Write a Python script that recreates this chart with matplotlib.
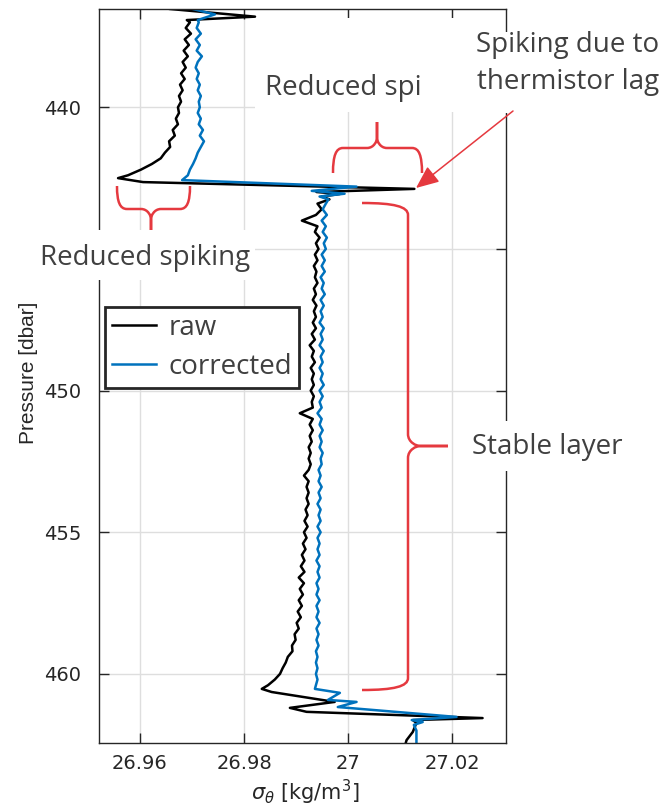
import numpy as np
import matplotlib
matplotlib.use('Agg')
import matplotlib.pyplot as plt
import matplotlib.transforms as mtransforms
from matplotlib.patches import Rectangle, PathPatch, FancyArrowPatch
from matplotlib.path import Path

# ---- profile data (pressure in dbar, sigma_theta in kg/m^3) ----
raw_head_p = [436.53, 436.80, 436.92]
raw_head = [26.9658, 26.9821, 26.9690]
cor_head_p = [436.45, 436.72, 436.92]
cor_head = [26.9684, 26.9744, 26.9711]

p_top = np.arange(437.0, 442.41, 0.2)
raw_top = [26.9696, 26.9688, 26.9698, 26.9686, 26.9694, 26.9684, 26.9692, 26.9682,
           26.9688, 26.9679, 26.9686, 26.9677, 26.9682, 26.9675, 26.9679, 26.9673,
           26.9675, 26.9669, 26.9673, 26.9663, 26.9667, 26.9656, 26.9658, 26.9648,
           26.9640, 26.9623, 26.9602, 26.9577]
cor_top = [26.9713, 26.9709, 26.9717, 26.9707, 26.9715, 26.9709, 26.9719, 26.9711,
           26.9707, 26.9713, 26.9709, 26.9715, 26.9711, 26.9717, 26.9713, 26.9715,
           26.9711, 26.9717, 26.9713, 26.9721, 26.9715, 26.9723, 26.9717, 26.9711,
           26.9707, 26.9702, 26.9696, 26.9692]

raw_spike_p = [442.50, 442.64, 442.88, 442.99, 443.06, 443.15, 443.25]
raw_spike = [26.9558, 26.9606, 27.0127, 26.9939, 26.9984, 26.9949, 26.9964]
cor_spike_p = [442.57, 442.80, 442.95, 443.05, 443.15, 443.25]
cor_spike = [26.9681, 27.0016, 26.9930, 26.9993, 26.9945, 26.9962]

p_mid = np.arange(443.4, 460.41, 0.2)
raw_mid = [26.9941, 26.9949, 26.9938, 26.9911, 26.9941, 26.9936, 26.9945, 26.9938, 26.9943, 26.9936,
           26.9941, 26.9934, 26.9939, 26.9936, 26.9941, 26.9934, 26.9938, 26.9932, 26.9939, 26.9934,
           26.9938, 26.9932, 26.9938, 26.9930, 26.9936, 26.9926, 26.9934, 26.9930, 26.9936, 26.9928,
           26.9934, 26.9930, 26.9934,
           26.9928, 26.9934, 26.9930, 26.9932, 26.9907, 26.9932, 26.9926, 26.9932, 26.9926, 26.9930,
           26.9924, 26.9928, 26.9924, 26.9928, 26.9924, 26.9915, 26.9924, 26.9920, 26.9924, 26.9920,
           26.9924, 26.9918, 26.9922, 26.9916, 26.9922, 26.9915, 26.9920, 26.9913, 26.9918, 26.9911,
           26.9916, 26.9909, 26.9916, 26.9905, 26.9915, 26.9907, 26.9913, 26.9905, 26.9911, 26.9903,
           26.9909, 26.9901, 26.9905, 26.9897, 26.9899, 26.9892, 26.9893, 26.9884, 26.9880, 26.9874,
           26.9869, 26.9859, 26.9846]
cor_mid = [26.9957, 26.9951, 26.9959, 26.9949, 26.9957, 26.9951, 26.9959, 26.9953, 26.9957, 26.9949,
           26.9955, 26.9949, 26.9955, 26.9947, 26.9953, 26.9949, 26.9955, 26.9947, 26.9953, 26.9947,
           26.9951, 26.9945, 26.9953, 26.9947, 26.9951, 26.9945, 26.9953, 26.9947, 26.9951, 26.9945,
           26.9951, 26.9947, 26.9953,
           26.9945, 26.9951, 26.9945, 26.9949, 26.9941, 26.9949, 26.9945, 26.9951, 26.9945, 26.9949,
           26.9945, 26.9951, 26.9947, 26.9949, 26.9943, 26.9947, 26.9943, 26.9949, 26.9943, 26.9947,
           26.9941, 26.9947, 26.9943, 26.9947, 26.9941, 26.9947, 26.9941, 26.9945, 26.9941, 26.9945,
           26.9939, 26.9945, 26.9941, 26.9945, 26.9939, 26.9943, 26.9939, 26.9945, 26.9939, 26.9943,
           26.9939, 26.9945, 26.9939, 26.9943, 26.9939, 26.9943, 26.9938, 26.9941, 26.9938, 26.9941,
           26.9938, 26.9941, 26.9938]

raw_tail_p = [460.53, 460.64, 460.99, 461.20, 461.34, 461.56, 461.63, 461.73, 462.05, 462.34, 462.60]
raw_tail = [26.9834, 26.9853, 26.9974, 26.9888, 26.9920, 27.0258, 27.0124, 27.0131, 27.0124, 27.0112, 27.0108]
cor_tail_p = [460.53, 460.67, 460.92, 460.99, 461.17, 461.52, 461.63, 461.70, 461.80, 462.00, 462.60]
cor_tail = [26.9936, 26.9984, 26.9961, 27.0016, 26.9980, 27.0208, 27.0122, 27.0143, 27.0126, 27.0131, 27.0131]

xticks = [26.96, 26.98, 27.0, 27.02]
xticklabels = ['26.96', '26.98', '27', '27.02']
yticks = [440, 445, 450, 455, 460]
yticklabels = ['440', '', '450', '455', '460']   # 445 sits under the pasted text box

p_raw = np.concatenate([raw_head_p, p_top, raw_spike_p, p_mid, raw_tail_p])
s_raw = np.concatenate([raw_head, raw_top, raw_spike, raw_mid, raw_tail])
p_cor = np.concatenate([cor_head_p, p_top, cor_spike_p, p_mid, cor_tail_p])
s_cor = np.concatenate([cor_head, cor_top, cor_spike, cor_mid, cor_tail])

W, H = 670, 808
RED = '#e5393f'
GREY = '#404040'
ANNOT_FONT = dict(family=['Open Sans', 'DejaVu Sans'], size=20, color=GREY)

fig = plt.figure(figsize=(W / 100, H / 100), dpi=100)
ax = fig.add_axes([99 / W, 1 - 743 / H, 407 / W, 734 / H])

ax.plot(s_raw, p_raw, color='black', lw=1.8, label='raw')
ax.plot(s_cor, p_cor, color='#0072BD', lw=1.8, label='corrected')

ax.set_xlim(26.95214, 27.0303)
ax.set_ylim(462.44, 436.53)
ax.set_xticks(xticks)
ax.set_xticklabels(xticklabels)
ax.set_yticks(yticks)
ax.set_yticklabels(yticklabels)
ax.tick_params(direction='in', top=True, right=True, length=7, width=1,
               labelsize=14, labelcolor='#262626', color='#262626')
ax.tick_params(axis='y', pad=13)
ax.tick_params(axis='x', pad=8)
ax.grid(True, color='#dedede', lw=1)
for sp in ax.spines.values():
    sp.set_color('#262626')
    sp.set_linewidth(1.0)

ax.set_xlabel(r'$\sigma_\theta$ [kg/m$^3$]', fontsize=15, color='#262626')
ax.xaxis.set_label_coords(0.506, -0.047)
ax.set_ylabel('Pressure [dbar]', fontsize=15, color='#262626',
              family=['Liberation Sans Narrow', 'Liberation Sans'])
ax.yaxis.set_label_coords(-0.15, 0.505)

leg = ax.legend(loc='upper left', bbox_to_anchor=(105 / W, 1 - 307 / H),
                bbox_transform=fig.transFigure, fancybox=False, framealpha=1,
                edgecolor='#262626', borderaxespad=0, borderpad=0.25,
                handlelength=1.6, handletextpad=0.45, labelspacing=0.4,
                prop=dict(family=['Open Sans', 'DejaVu Sans'], size=20))
leg.get_frame().set_linewidth(2)
for t in leg.get_texts():
    t.set_color(GREY)

# pixel coordinates of the slide, y downward
px = mtransforms.Affine2D().scale(1 / W, -1 / H).translate(0, 1) + fig.transFigure

# white text boxes pasted over the plot
for x0, y0, x1, y1 in [(462, 32, 670, 113), (255, 18, 462, 112),
                       (25, 230, 255, 280), (462, 421, 645, 471)]:
    fig.add_artist(Rectangle((x0, y0), x1 - x0, y1 - y0, transform=px,
                             facecolor='white', edgecolor='none', zorder=5))

fig.text(568, 45, 'Spiking due to', transform=px, ha='center', va='center', zorder=6, **ANNOT_FONT)
fig.text(568, 82, 'thermistor lag', transform=px, ha='center', va='center', zorder=6, **ANNOT_FONT)
fig.text(265, 88, 'Reduced spi', transform=px, ha='left', va='center', zorder=6, **ANNOT_FONT)
fig.text(40, 258, 'Reduced spiking', transform=px, ha='left', va='center', zorder=6, **ANNOT_FONT)
fig.text(472, 447, 'Stable layer', transform=px, ha='left', va='center', zorder=6, **ANNOT_FONT)


def brace(e1, e2, tip, h1, r):
    e1, e2, tip = np.array(e1, float), np.array(e2, float), np.array(tip, float)
    L = np.linalg.norm(e2 - e1)
    u = (e2 - e1) / L
    d = tip - e1
    c = d @ u
    nv = d - c * u
    hn = np.linalg.norm(nv)
    nv = nv / hn

    def P(t, n):
        return e1 + t * u + n * nv

    verts, codes = [], []
    for t0, s in [(0.0, 1.0), (L, -1.0)]:
        verts += [P(t0, 0), P(t0, h1 * 0.7), P(t0 + s * r * 0.3, h1), P(t0 + s * r, h1),
                  P(c - s * r, h1),
                  P(c - s * r * 0.3, h1), P(c, h1 + r * 0.7), P(c, h1 + r),
                  P(c, hn)]
        codes += [Path.MOVETO, Path.CURVE4, Path.CURVE4, Path.CURVE4,
                  Path.LINETO,
                  Path.CURVE4, Path.CURVE4, Path.CURVE4,
                  Path.LINETO]
    fig.add_artist(PathPatch(Path(verts, codes), transform=px, fill=False,
                             edgecolor=RED, lw=1.8, zorder=6))


brace((117, 186), (190, 186), (151, 230), 23, 10)
brace((333, 173), (422, 173), (377, 122), 25, 10)
brace((362, 203), (362, 690), (448, 446), 46, 12)

fig.add_artist(FancyArrowPatch((513, 111), (416, 188), transform=px,
                               arrowstyle='-|>,head_length=0.7,head_width=0.3',
                               mutation_scale=20, color=RED, lw=1.1,
                               shrinkA=0, shrinkB=0, zorder=6))

fig.savefig('out.png', dpi=100)
